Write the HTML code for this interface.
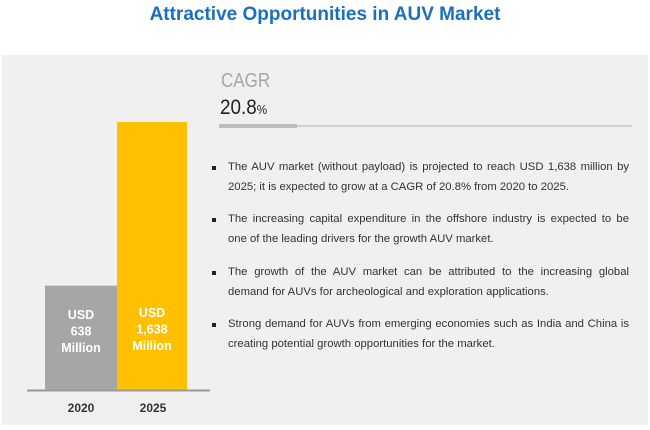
<!DOCTYPE html>
<html><head><meta charset="utf-8">
<style>
body{margin:0;width:650px;height:430px;background:#fff;font-family:"Liberation Sans",sans-serif;position:relative;overflow:hidden}
.t{position:absolute}
#panel{position:absolute;left:2px;top:55px;width:646px;height:370px;background:#f0f0f0}
.b{position:absolute;left:212px;width:4px;height:4px;background:#222}
.p{position:absolute;left:228px;width:401px;font-size:11.3px;line-height:20px;color:#333}
.p span{display:block;white-space:nowrap}
.p span.j{text-align:justify;text-align-last:justify;white-space:normal}
</style></head><body>
<div class="t" style="left:0;width:650px;top:4px;text-align:center;font-size:19px;font-weight:bold;color:#1a6fbf">Attractive Opportunities in AUV Market</div>
<div id="panel"></div>
<svg id="chart" class="t" style="left:0;top:0" width="650" height="430"></svg>
<div class="t" style="left:221px;top:70px;font-size:20px;color:#a6a6a6;transform:scaleX(.85);transform-origin:left">CAGR</div>
<div class="t" style="left:220px;top:96px;font-size:21px;color:#222;transform:scaleX(.9);transform-origin:left">20.8<span style="font-size:13px">%</span></div>
<div class="t" style="left:219px;top:125px;width:413px;height:2px;background:#d0d0d0"></div>
<div class="t" style="left:219px;top:124px;width:78px;height:4px;background:#bdbdbd"></div>
<div class="b" style="top:166px"></div>
<div class="p" style="top:157px"><span class="j">The AUV market (without payload) is projected to reach USD 1,638 million by</span><span>2025; it is expected to grow at a CAGR of 20.8% from 2020 to 2025.</span></div>
<div class="b" style="top:218px"></div>
<div class="p" style="top:209px"><span class="j">The increasing capital expenditure in the offshore industry is expected to be</span><span>one of the leading drivers for the growth AUV market.</span></div>
<div class="b" style="top:271px"></div>
<div class="p" style="top:262px"><span class="j">The growth of the AUV market can be attributed to the increasing global</span><span>demand for AUVs for archeological and exploration applications.</span></div>
<div class="b" style="top:323px"></div>
<div class="p" style="top:314px"><span class="j">Strong demand for AUVs from emerging economies such as India and China is</span><span>creating potential growth opportunities for the market.</span></div>
<script>
const years=["2020","2025"];
const values=[638,1638];
const valueLabels=[["USD","638","Million"],["USD","1,638","Million"]];
const colors=["#a6a6a6","#ffc000"];
const NS="http://www.w3.org/2000/svg";
const svg=document.getElementById('chart');
const baseY=390, maxV=1638, plotH=268, x0=45, bw=72;
const y=v=>baseY-v/maxV*plotH;
function mk(t,a){const e=document.createElementNS(NS,t);for(const k in a)e.setAttribute(k,a[k]);svg.appendChild(e);return e;}
years.forEach((yr,i)=>{
  const x=x0+i*bw;
  const r=mk('rect',{x:x,y:y(values[i]),width:bw-(i?2:0),height:baseY-y(values[i]),fill:colors[i]});
  
  
  valueLabels[i].forEach((s,j)=>{
    const t=mk('text',{x:x+bw/2-(i?1:0),y:(i?317:319)+j*16.5,'text-anchor':'middle','font-size':'12.5','font-weight':'bold',fill:'#fff','font-family':'Liberation Sans, sans-serif'});
    t.textContent=s;
    
    
  });
  const l=mk('text',{x:x+bw/2,y:412,'text-anchor':'middle','font-size':'12','font-weight':'bold',fill:'#333','font-family':'Liberation Sans, sans-serif'});
  l.textContent=yr;
  
  
});
const ax=mk('line',{x1:27,x2:210,y1:baseY+0.5,y2:baseY+0.5,stroke:'#999','stroke-width':2});


</script>
</body></html>
